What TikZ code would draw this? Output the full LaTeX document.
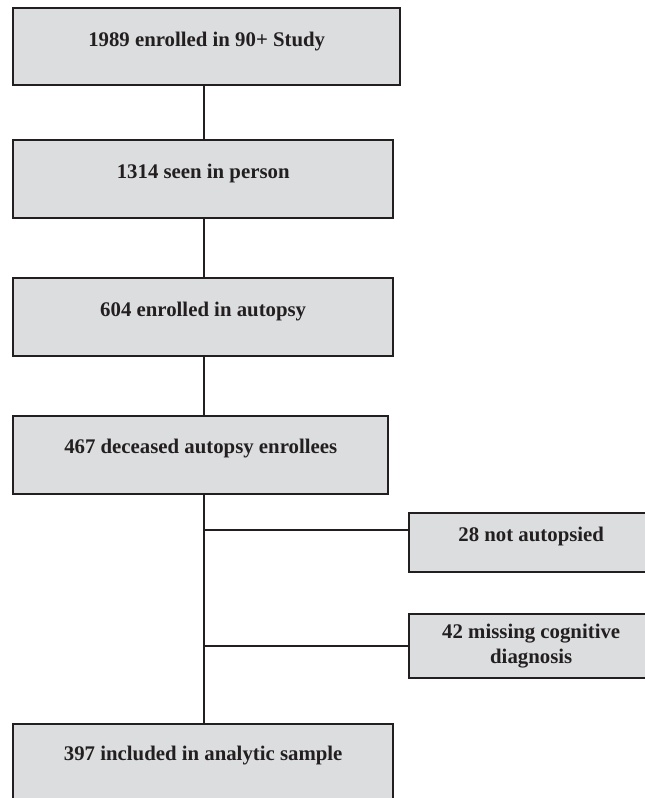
\documentclass[tikz,border=0pt]{standalone}
\usepackage{fontspec}
\setmainfont{Liberation Serif}
\definecolor{boxfill}{HTML}{DCDDDF}
\definecolor{ink}{HTML}{231F20}
\begin{document}
\begin{tikzpicture}[x=1pt,y=-1pt,
  flowbox/.style={draw=ink, fill=boxfill, line width=2.4pt, inner sep=0pt, anchor=north west},
  boxtext/.style={font=\fontsize{20.8}{25}\selectfont\bfseries, text=ink, align=center, inner sep=0pt, anchor=base},
  link/.style={draw=ink, line width=2.4pt}]
\useasboundingbox (0,0) rectangle (645,798);
\clip (0,0) rectangle (645,798);
\coordinate (spine) at (204,0);
% boxes
\node[flowbox, minimum width=387pt, minimum height=77pt] (b1) at (12,7) {};
\node[flowbox, minimum width=380pt, minimum height=78pt] (b2) at (12,139) {};
\node[flowbox, minimum width=380pt, minimum height=78pt] (b3) at (12,277) {};
\node[flowbox, minimum width=375pt, minimum height=78pt] (b4) at (12,415) {};
\node[flowbox, minimum width=244pt, minimum height=59pt] (b5) at (408,512) {};
\node[flowbox, minimum width=244pt, minimum height=64pt] (b6) at (408,613) {};
\node[flowbox, minimum width=380pt, minimum height=90pt] (b7) at (12,723) {};
% texts
\node[boxtext] (t1) at ([yshift=-39pt]b1.north) {1989 enrolled in 90+ Study};
\node[boxtext] (t2) at ([yshift=-39pt]b2.north) {1314 seen in person};
\node[boxtext] (t3) at ([yshift=-39pt]b3.north) {604 enrolled in autopsy};
\node[boxtext] (t4) at ([yshift=-38pt]b4.north) {467 deceased autopsy enrollees};
\node[boxtext] (t5) at ([yshift=-29pt]b5.north) {28 not autopsied};
\node[boxtext] (t6) at ([yshift=-50pt]b6.north) {42 missing cognitive\\diagnosis};
\node[boxtext] (t7) at ([yshift=-37pt]b7.north) {397 included in analytic sample};
% connectors
\draw[link] (b1.south -| spine) -- (b2.north -| spine);
\draw[link] (b2.south -| spine) -- (b3.north -| spine);
\draw[link] (b3.south -| spine) -- (b4.north -| spine);
\draw[link] (b4.south -| spine) -- (b7.north -| spine);
\coordinate (j5) at ([yshift=-18pt]b5.north west);
\draw[link] (j5 -| spine) -- (j5);
\draw[link] (b6.west -| spine) -- (b6.west);
\end{tikzpicture}
\end{document}
